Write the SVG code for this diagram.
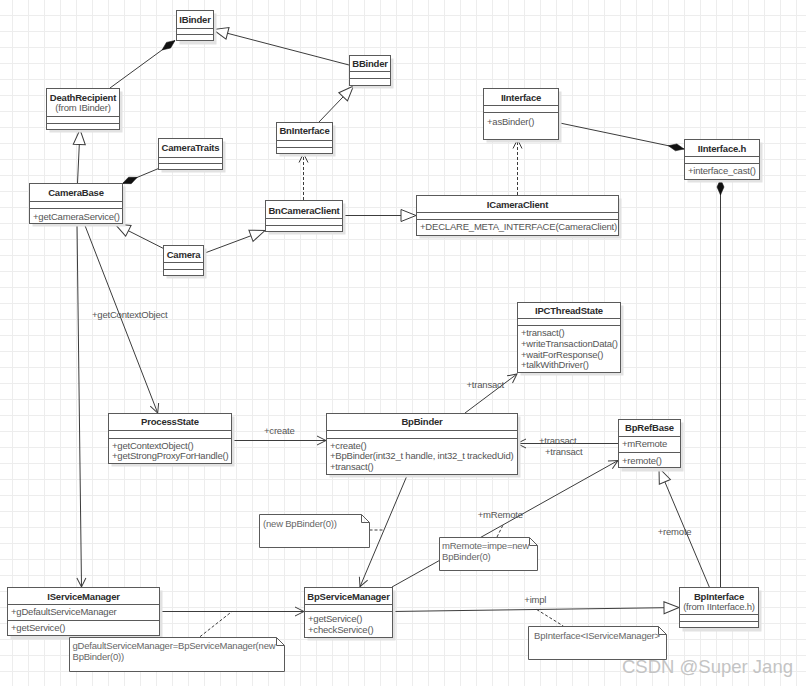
<svg xmlns="http://www.w3.org/2000/svg" width="806" height="686" viewBox="0 0 806 686">
<style>
text{font-family:"Liberation Sans",Arial,sans-serif;font-size:9.5px;letter-spacing:-0.2px;fill:#555}
.t{font-weight:bold;fill:#2b2b2b;text-anchor:middle}
.c{text-anchor:middle}
.b{fill:#fff;stroke:#5a5a5a;stroke-width:1}
.sh{fill:#e2e2e2}
.ln{stroke:#5a5a5a;stroke-width:1}
.cn{fill:none;stroke:#3c3c3c;stroke-width:1}
.d{stroke-dasharray:3,2}
.n{fill:#fff;stroke:#5a5a5a;stroke-width:1}
.nt{fill:#666}
.wm{font-size:18.5px;letter-spacing:0;fill:#c4c4c4}
</style>
<defs>
<pattern id="grid" patternUnits="userSpaceOnUse" x="12" y="15" width="16" height="16">
<path d="M0.5,0 V16 M0,0.5 H16" stroke="#ededed" stroke-width="1" fill="none"/>
</pattern>
<marker id="tri" markerUnits="userSpaceOnUse" viewBox="0 0 15 12" refX="15" refY="6" markerWidth="15" markerHeight="12" orient="auto" style="overflow:visible">
<path d="M0,0 L15,6 L0,12 Z" fill="#fff" stroke="#3c3c3c" stroke-width="1"/>
</marker>
<marker id="dia" markerUnits="userSpaceOnUse" viewBox="0 0 16 7" refX="16" refY="3.5" markerWidth="16" markerHeight="7" orient="auto" style="overflow:visible">
<path d="M0,3.5 L8,0 L16,3.5 L8,7 Z" fill="#111" stroke="#111" stroke-width="0.5"/>
</marker>
<marker id="arr" markerUnits="userSpaceOnUse" viewBox="0 0 9 9" refX="9" refY="4.5" markerWidth="9" markerHeight="9" orient="auto" style="overflow:visible">
<path d="M0,0 L9,4.5 L0,9" fill="none" stroke="#3c3c3c" stroke-width="1"/>
</marker>
</defs>
<rect x="0" y="0" width="806" height="686" fill="#fff"/>
<rect x="0" y="0" width="806" height="686" fill="url(#grid)"/>

<g id="connectors">
<path class="cn" d="M110,88 L175,40.5" marker-end="url(#dia)"/>
<path class="cn" d="M349,65 L213,29.5" marker-end="url(#tri)"/>
<path class="cn" d="M319,122 L353.5,86" marker-end="url(#tri)"/>
<path class="cn" d="M77.5,183 L80,129.5" marker-end="url(#tri)"/>
<path class="cn" d="M158.5,168.5 L122.5,183.5" marker-end="url(#dia)"/>
<path class="cn" d="M163.5,248.5 L115,224" marker-end="url(#tri)"/>
<path class="cn" d="M203.5,253.5 L265,230.5" marker-end="url(#tri)"/>
<path class="cn d" d="M303.5,200 L303.5,153.5" marker-end="url(#arr)"/>
<path class="cn" d="M342,215.5 L416,215.5" marker-end="url(#tri)"/>
<path class="cn d" d="M517.5,195 L517.5,139.5" marker-end="url(#arr)"/>
<path class="cn" d="M557.5,122.5 L684,149" marker-end="url(#dia)"/>
<path class="cn" d="M720.5,587 L720.5,179" marker-end="url(#dia)"/>
<path class="cn" d="M84,223 L157.7,413" marker-end="url(#arr)"/>
<path class="cn" d="M77,223 L81.5,587" marker-end="url(#arr)"/>
<path class="cn" d="M231,440.5 L326,440.5" marker-end="url(#arr)"/>
<path class="cn" d="M465,413 L517,374" marker-end="url(#arr)"/>
<path class="cn" d="M618,443.5 L517,443.5" marker-end="url(#arr)"/>
<path class="cn" d="M407.7,474 L360,586.7" marker-end="url(#arr)"/>
<path class="cn" d="M392,587 L618,460.5" marker-end="url(#arr)"/>
<path class="cn" d="M392,611.5 L679,607.5" marker-end="url(#tri)"/>
<path class="cn" d="M709.3,587 L659,468" marker-end="url(#tri)"/>
<path class="cn" d="M159,611.5 L304,611.5" marker-end="url(#arr)"/>
<path class="cn d" d="M369.5,530 L383.5,530"/>
<path class="cn d" d="M200,636.7 L231.7,611.7"/>
<path class="cn d" d="M497,537 L503,525"/>
<path class="cn d" d="M536.7,609.5 L563.3,626"/>
<text x="92" y="317.5">+getContextObject</text>
<text x="264" y="433.5">+create</text>
<text x="466.5" y="387.5">+transact</text>
<text x="539" y="443.5">+transact</text>
<text x="545" y="454.5">+transact</text>
<text x="477.7" y="517.5">+mRemote</text>
<text x="657.7" y="534.5">+remote</text>
<text x="524.3" y="602.5">+impl</text>
</g>

<g id="IBinder">
<rect class="sh" x="179.5" y="13.5" width="37" height="31"/>
<rect class="b" x="176.5" y="10.5" width="37" height="30"/>
<path class="ln" d="M176.5,28.5 H213.5 M176.5,34.5 H213.5"/>
<text class="t" x="195" y="22.5">IBinder</text>
</g>

<g id="BBinder">
<rect class="sh" x="352.5" y="58.5" width="41" height="30"/>
<rect class="b" x="349.5" y="55.5" width="41" height="30"/>
<path class="ln" d="M349.5,71.5 H390.5 M349.5,78.5 H390.5"/>
<text class="t" x="370" y="67">BBinder</text>
</g>

<g id="DeathRecipient">
<rect class="sh" x="49.5" y="91.5" width="73" height="41"/>
<rect class="b" x="46.5" y="88.5" width="73" height="41"/>
<path class="ln" d="M46.5,116.5 H119.5 M46.5,123.5 H119.5"/>
<text class="t" x="83" y="101">DeathRecipient</text>
<text class="c" x="83" y="111">(from IBinder)</text>
</g>

<g id="CameraTraits">
<rect class="sh" x="161.5" y="141.5" width="64" height="31"/>
<rect class="b" x="158.5" y="138.5" width="64" height="31"/>
<path class="ln" d="M158.5,157.5 H222.5 M158.5,163.5 H222.5"/>
<text class="t" x="190.5" y="151">CameraTraits</text>
</g>

<g id="CameraBase">
<rect class="sh" x="32.5" y="186.5" width="93" height="40"/>
<rect class="b" x="29.5" y="183.5" width="93" height="40"/>
<path class="ln" d="M29.5,201.5 H122.5 M29.5,208.5 H122.5"/>
<text class="t" x="76" y="196">CameraBase</text>
<text x="33" y="219.5">+getCameraService()</text>
</g>

<g id="BnInterface">
<rect class="sh" x="279.5" y="125.5" width="56" height="31"/>
<rect class="b" x="276.5" y="122.5" width="56" height="31"/>
<path class="ln" d="M276.5,140.5 H332.5 M276.5,147.5 H332.5"/>
<text class="t" x="304.5" y="134">BnInterface</text>
</g>

<g id="BnCameraClient">
<rect class="sh" x="268.5" y="203.5" width="77" height="31"/>
<rect class="b" x="265.5" y="200.5" width="77" height="31"/>
<path class="ln" d="M265.5,218.5 H342.5 M265.5,225.5 H342.5"/>
<text class="t" x="304" y="213.5">BnCameraClient</text>
</g>

<g id="Camera">
<rect class="sh" x="166.5" y="248.5" width="40" height="30"/>
<rect class="b" x="163.5" y="245.5" width="40" height="30"/>
<path class="ln" d="M163.5,262.5 H203.5 M163.5,269.5 H203.5"/>
<text class="t" x="183.5" y="257.5">Camera</text>
</g>

<g id="IInterface">
<rect class="sh" x="486.5" y="91.5" width="75" height="51"/>
<rect class="b" x="483.5" y="88.5" width="75" height="51"/>
<path class="ln" d="M483.5,105.5 H558.5 M483.5,112.5 H558.5"/>
<text class="t" x="521" y="101">IInterface</text>
<text x="487" y="125">+asBinder()</text>
</g>

<g id="IInterface.h">
<rect class="sh" x="687.5" y="142.5" width="75" height="40"/>
<rect class="b" x="684.5" y="139.5" width="75" height="40"/>
<path class="ln" d="M684.5,156.5 H759.5 M684.5,163.5 H759.5"/>
<text class="t" x="722" y="152">IInterface.h</text>
<text x="688" y="174">+interface_cast()</text>
</g>

<g id="ICameraClient">
<rect class="sh" x="419.5" y="198.5" width="202" height="40"/>
<rect class="b" x="416.5" y="195.5" width="202" height="40"/>
<path class="ln" d="M416.5,212.5 H618.5 M416.5,219.5 H618.5"/>
<text class="t" x="517.5" y="207.5">ICameraClient</text>
<text x="420" y="230">+DECLARE_META_INTERFACE(CameraClient)</text>
</g>

<g id="IPCThreadState">
<rect class="sh" x="520.5" y="305.5" width="103" height="70"/>
<rect class="b" x="517.5" y="302.5" width="103" height="70"/>
<path class="ln" d="M517.5,318.5 H620.5 M517.5,325.5 H620.5"/>
<text class="t" x="569" y="313.5">IPCThreadState</text>
<text x="521" y="336">+transact()</text>
<text x="521" y="347">+writeTransactionData()</text>
<text x="521" y="357.5">+waitForResponse()</text>
<text x="521" y="368">+talkWithDriver()</text>
</g>

<g id="ProcessState">
<rect class="sh" x="111.5" y="416.5" width="123" height="50"/>
<rect class="b" x="108.5" y="413.5" width="123" height="50"/>
<path class="ln" d="M108.5,430.5 H231.5 M108.5,438.5 H231.5"/>
<text class="t" x="170" y="425">ProcessState</text>
<text x="112" y="448.5">+getContextObject()</text>
<text x="112" y="459">+getStrongProxyForHandle()</text>
</g>

<g id="BpBinder">
<rect class="sh" x="329.5" y="416.5" width="191" height="61"/>
<rect class="b" x="326.5" y="413.5" width="191" height="61"/>
<path class="ln" d="M326.5,430.5 H517.5 M326.5,438.5 H517.5"/>
<text class="t" x="422" y="425">BpBinder</text>
<text x="330" y="448.5">+create()</text>
<text x="330" y="459">+BpBinder(int32_t handle, int32_t trackedUid)</text>
<text x="330" y="469.5">+transact()</text>
</g>

<g id="BpRefBase">
<rect class="sh" x="621.5" y="422.5" width="62" height="49"/>
<rect class="b" x="618.5" y="419.5" width="62" height="48"/>
<path class="ln" d="M618.5,436.5 H680.5 M618.5,452.5 H680.5"/>
<text class="t" x="649.5" y="431">BpRefBase</text>
<text x="622" y="447">+mRemote</text>
<text x="622" y="463.5">+remote()</text>
</g>

<g id="IServiceManager">
<rect class="sh" x="10.5" y="590.5" width="152" height="49"/>
<rect class="b" x="7.5" y="587.5" width="152" height="48"/>
<path class="ln" d="M7.5,604.5 H159.5 M7.5,620.5 H159.5"/>
<text class="t" x="83.5" y="599.5">IServiceManager</text>
<text x="11" y="615">+gDefaultServiceManager</text>
<text x="11" y="630.7">+getService()</text>
</g>

<g id="BpServiceManager">
<rect class="sh" x="307.5" y="590.5" width="88" height="50"/>
<rect class="b" x="304.5" y="587.5" width="88" height="50"/>
<path class="ln" d="M304.5,604.5 H392.5 M304.5,611.5 H392.5"/>
<text class="t" x="348.5" y="599.5">BpServiceManager</text>
<text x="308" y="622">+getService()</text>
<text x="308" y="632.7">+checkService()</text>
</g>

<g id="BpInterface">
<rect class="sh" x="682.5" y="590.5" width="79" height="41"/>
<rect class="b" x="679.5" y="587.5" width="79" height="40"/>
<path class="ln" d="M679.5,614.5 H758.5 M679.5,621.5 H758.5"/>
<text class="t" x="719" y="599.5">BpInterface</text>
<text class="c" x="719" y="609.5">(from IInterface.h)</text>
</g>

<g id="note1">
<path class="n" d="M259.5,514.5 H361.5 L369.5,522.5 V547.5 H259.5 Z M361.5,514.5 V522.5 H369.5"/>
<text class="nt" x="263" y="527">(new BpBinder(0))</text>
</g>

<g id="note2">
<path class="n" d="M69.5,637.5 H276.5 L284.5,645.5 V671.5 H69.5 Z M276.5,637.5 V645.5 H284.5"/>
<text class="nt" x="72.5" y="648.5">gDefaultServiceManager=BpServiceManager(new</text>
<text class="nt" x="72.5" y="659.5">BpBinder(0))</text>
</g>

<g id="note3">
<path class="n" d="M439.5,537.5 H529.5 L537.5,545.5 V570.5 H439.5 Z M529.5,537.5 V545.5 H537.5"/>
<text class="nt" x="442" y="549">mRemote=impe=new</text>
<text class="nt" x="442" y="559.5">BpBinder(0)</text>
</g>

<g id="note4">
<path class="n" d="M528.5,626.5 H658.5 L666.5,634.5 V659.5 H528.5 Z M658.5,626.5 V634.5 H666.5"/>
<text class="nt" x="534" y="638.5">BpInterface&lt;IServiceManager&gt;</text>
</g>

<text class="wm" x="622" y="673">CSDN @Super Jang</text>
</svg>
